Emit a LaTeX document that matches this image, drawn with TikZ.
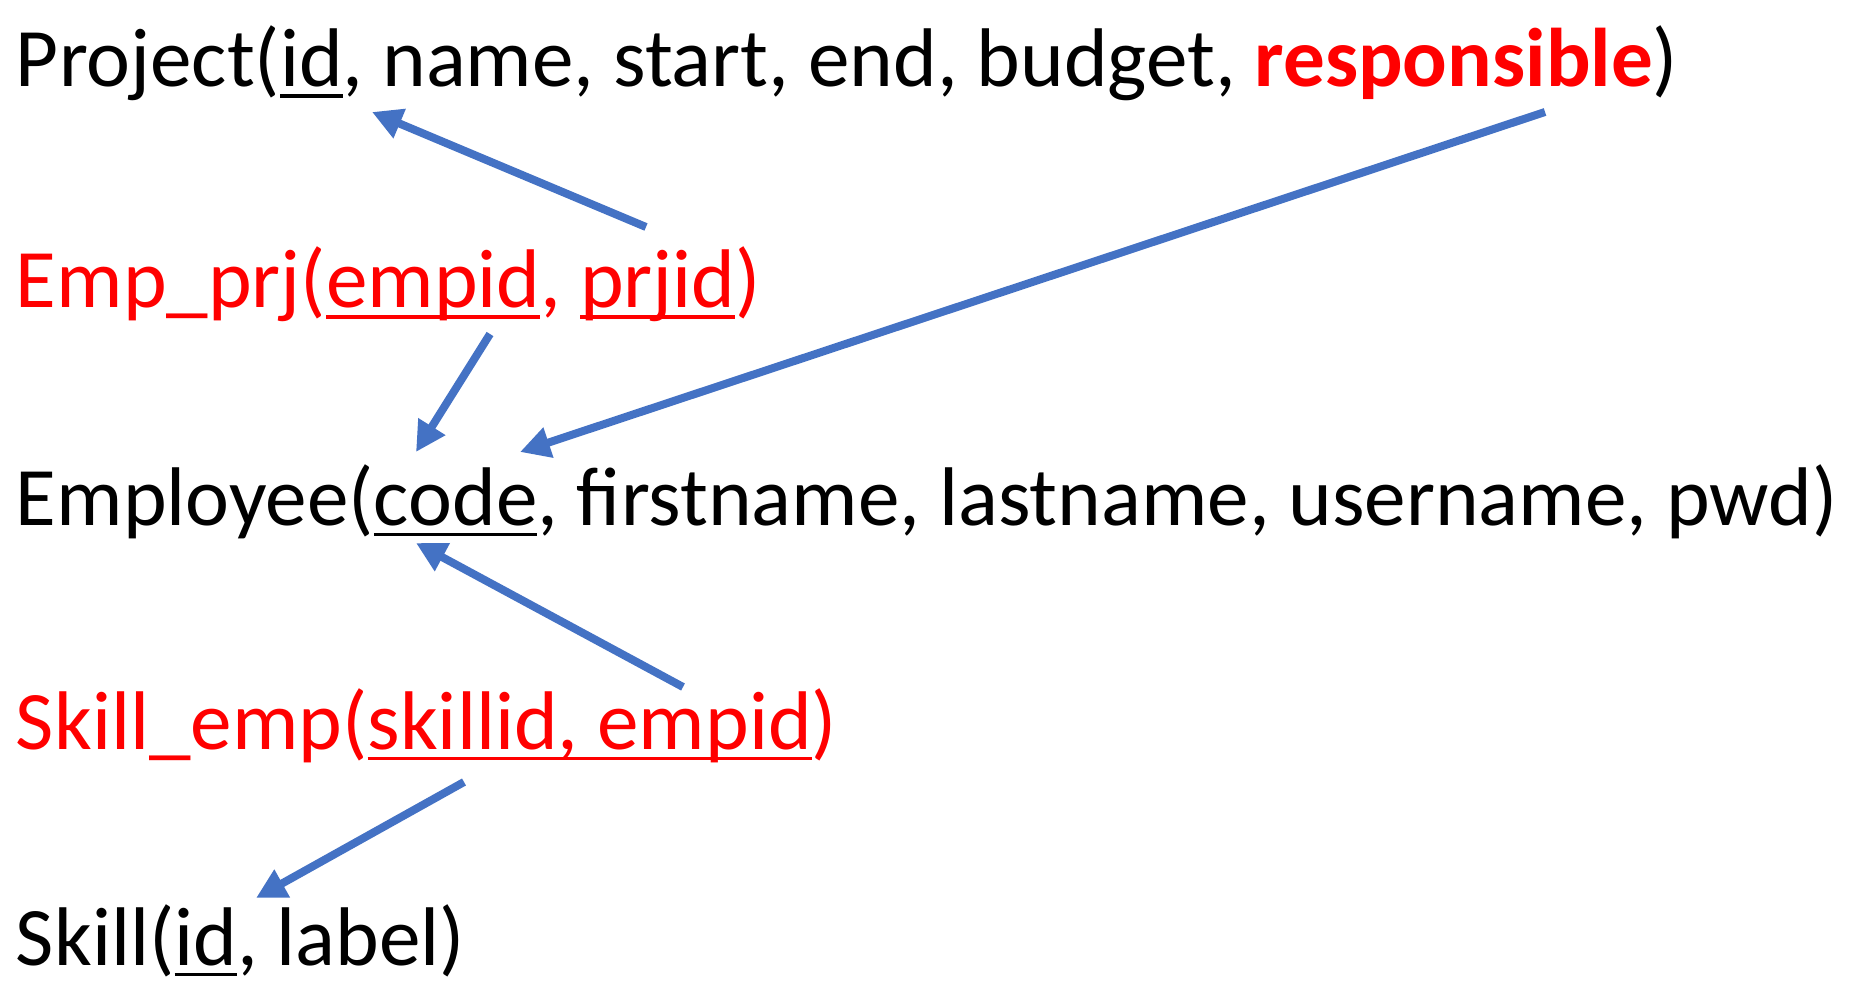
\documentclass[tikz,border=0pt]{standalone}
\usepackage{fontspec}
\setmainfont{Carlito}
\usetikzlibrary{arrows.meta}
\definecolor{arrowblue}{HTML}{4472C4}
\definecolor{keyred}{HTML}{FF0000}
\newcommand\ulx[1]{\setbox0\hbox{#1}\rlap{\rule[-11pt]{\wd0}{3.5pt}}\box0}
\begin{document}
\begin{tikzpicture}[x=1pt,y=-1pt,
  rel/.style={anchor=base west, inner sep=0pt, outer sep=0pt, font=\fontsize{83.2}{100}\selectfont},
  fk/.style={draw=arrowblue, line width=8pt, -{Triangle[length=30pt,width=30pt]}}]
\useasboundingbox (0,0) rectangle (1852,1000);
\node[rel] (project) at (16,87) {Project(\ulx{id}, name, start, end, budget, \textcolor{keyred}{\bfseries responsible})};
\node[rel, text=keyred] (empprj) at (16,308) {Emp\_prj(\ulx{empid}, \ulx{prjid})};
\node[rel] (employee) at (16,525) {Employee(\ulx{code}, firstname, lastname, username, pwd)};
\node[rel, text=keyred] (skillemp) at (16,749) {Skill\_emp(\ulx{skillid, empid})};
\node[rel] (skill) at (16,965) {Skill(\ulx{id}, label)};
% connector end points
\coordinate (epFrom) at (646,227);
\coordinate (prjId) at (372,112);
\coordinate (respFrom) at (1545,112);
\coordinate (codeA) at (520,452);
\coordinate (epEmp) at (490,334);
\coordinate (codeB) at (416,452);
\coordinate (seEmp) at (683,687);
\coordinate (codeC) at (416,543);
\coordinate (seSkill) at (464,782);
\coordinate (skillId) at (256,898);
\draw[fk] (epFrom) -- (prjId);
\draw[fk] (respFrom) -- (codeA);
\draw[fk] (epEmp) -- (codeB);
\draw[fk] (seEmp) -- (codeC);
\draw[fk] (seSkill) -- (skillId);
\end{tikzpicture}
\end{document}
